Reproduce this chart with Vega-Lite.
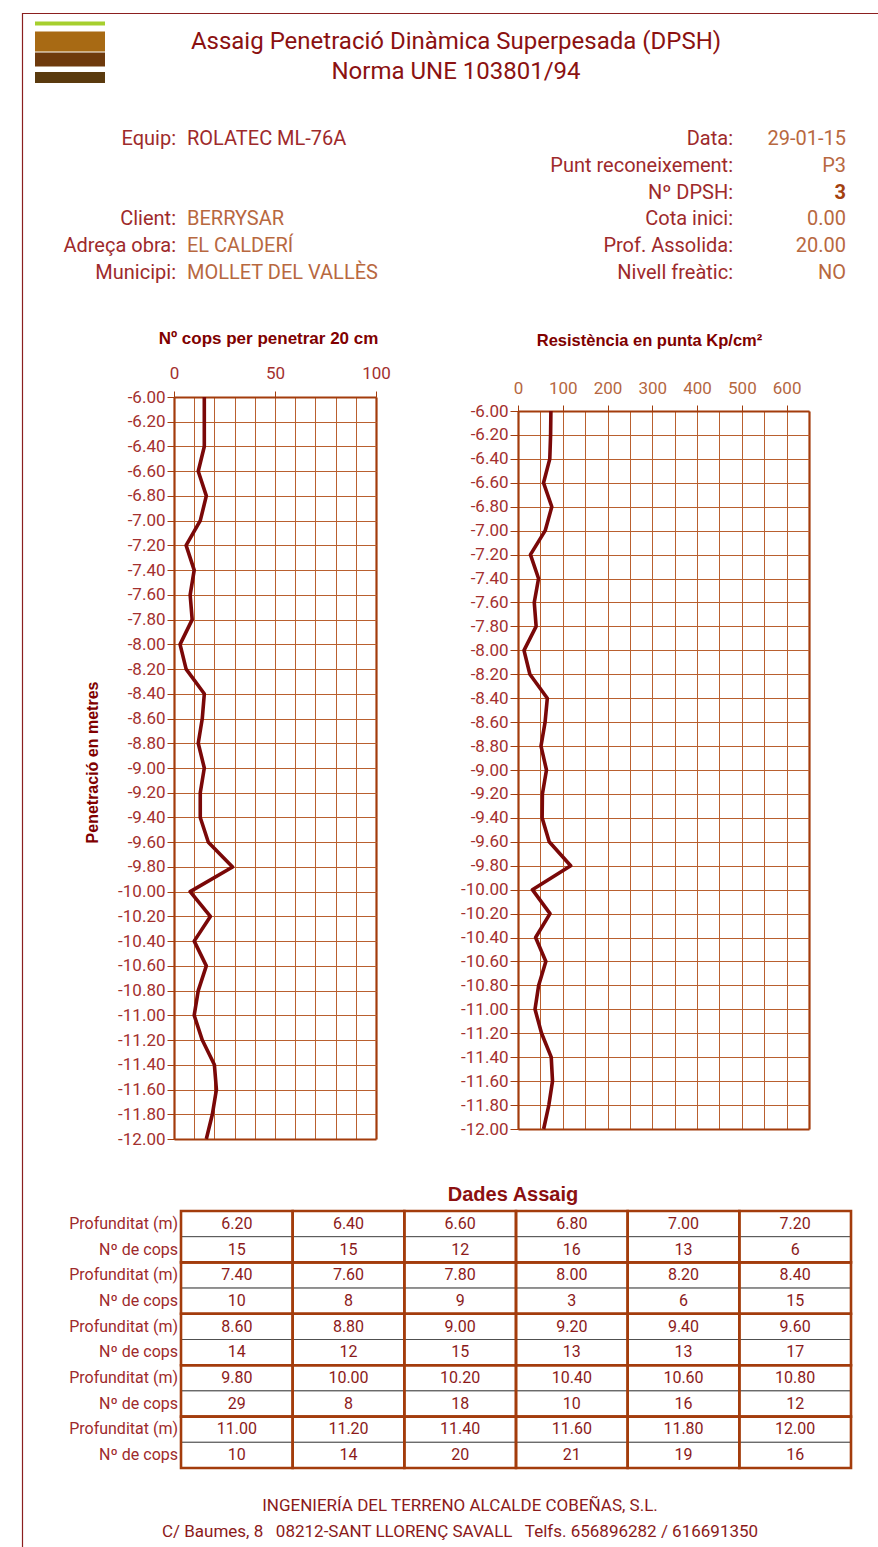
{
  "$schema": "https://vega.github.io/schema/vega-lite/v6.json",
  "width": 878,
  "height": 1547,
  "padding": 0,
  "autosize": {"type": "none"},
  "background": "#ffffff",
  "config": {"view": {"stroke": null}, "font": "Roboto"},
  "datasets": {
    "assaig": [
      {"prof": 6.0, "cops": 15, "rd": 73.5},
      {"prof": 6.2, "cops": 15, "rd": 72.8, "grup": 1, "col": 1},
      {"prof": 6.4, "cops": 15, "rd": 71.0, "grup": 1, "col": 2},
      {"prof": 6.6, "cops": 12, "rd": 57.1, "grup": 1, "col": 3},
      {"prof": 6.8, "cops": 16, "rd": 75.5, "grup": 1, "col": 4},
      {"prof": 7.0, "cops": 13, "rd": 60.7, "grup": 1, "col": 5},
      {"prof": 7.2, "cops": 6, "rd": 27.8, "grup": 1, "col": 6},
      {"prof": 7.4, "cops": 10, "rd": 45.9, "grup": 2, "col": 1},
      {"prof": 7.6, "cops": 8, "rd": 36.3, "grup": 2, "col": 2},
      {"prof": 7.8, "cops": 9, "rd": 40.5, "grup": 2, "col": 3},
      {"prof": 8.0, "cops": 3, "rd": 13.4, "grup": 2, "col": 4},
      {"prof": 8.2, "cops": 6, "rd": 26.5, "grup": 2, "col": 5},
      {"prof": 8.4, "cops": 15, "rd": 65.5, "grup": 2, "col": 6},
      {"prof": 8.6, "cops": 14, "rd": 60.5, "grup": 3, "col": 1},
      {"prof": 8.8, "cops": 12, "rd": 51.4, "grup": 3, "col": 2},
      {"prof": 9.0, "cops": 15, "rd": 63.6, "grup": 3, "col": 3},
      {"prof": 9.2, "cops": 13, "rd": 54.5, "grup": 3, "col": 4},
      {"prof": 9.4, "cops": 13, "rd": 53.9, "grup": 3, "col": 5},
      {"prof": 9.6, "cops": 17, "rd": 69.7, "grup": 3, "col": 6},
      {"prof": 9.8, "cops": 29, "rd": 117.7, "grup": 4, "col": 1},
      {"prof": 10.0, "cops": 8, "rd": 32.1, "grup": 4, "col": 2},
      {"prof": 10.2, "cops": 18, "rd": 71.5, "grup": 4, "col": 3},
      {"prof": 10.4, "cops": 10, "rd": 39.3, "grup": 4, "col": 4},
      {"prof": 10.6, "cops": 16, "rd": 62.2, "grup": 4, "col": 5},
      {"prof": 10.8, "cops": 12, "rd": 46.1, "grup": 4, "col": 6},
      {"prof": 11.0, "cops": 10, "rd": 38.0, "grup": 5, "col": 1},
      {"prof": 11.2, "cops": 14, "rd": 52.6, "grup": 5, "col": 2},
      {"prof": 11.4, "cops": 20, "rd": 74.2, "grup": 5, "col": 3},
      {"prof": 11.6, "cops": 21, "rd": 77.1, "grup": 5, "col": 4},
      {"prof": 11.8, "cops": 19, "rd": 68.9, "grup": 5, "col": 5},
      {"prof": 12.0, "cops": 16, "rd": 57.3, "grup": 5, "col": 6}
    ],
    "fitxa": [
      {"bloc": "esq", "fila": 1, "camp": "Equip:", "valor": "ROLATEC ML-76A"},
      {"bloc": "esq", "fila": 4, "camp": "Client:", "valor": "BERRYSAR"},
      {"bloc": "esq", "fila": 5, "camp": "Adreça obra:", "valor": "EL CALDERÍ"},
      {"bloc": "esq", "fila": 6, "camp": "Municipi:", "valor": "MOLLET DEL VALLÈS"},
      {"bloc": "dre", "fila": 1, "camp": "Data:", "valor": "29-01-15"},
      {"bloc": "dre", "fila": 2, "camp": "Punt reconeixement:", "valor": "P3"},
      {"bloc": "dre", "fila": 3, "camp": "Nº DPSH:", "valor": "3"},
      {"bloc": "dre", "fila": 4, "camp": "Cota inici:", "valor": "0.00"},
      {"bloc": "dre", "fila": 5, "camp": "Prof. Assolida:", "valor": "20.00"},
      {"bloc": "dre", "fila": 6, "camp": "Nivell freàtic:", "valor": "NO"}
    ]
  },
  "resolve": {
    "scale": {"x": "independent", "y": "independent", "color": "independent", "size": "independent"},
    "axis": {"x": "independent", "y": "independent"}
  },
  "layer": [
    {
      "data": {"values": [{"full": "P3"}]},
      "mark": {"type": "rect", "filled": false, "color": "#8b1f1f", "strokeWidth": 1.2},
      "encoding": {
        "x": {"datum": 0, "type": "quantitative", "scale": {"domain": [0, 1], "range": [22.5, 900]}, "axis": null},
        "x2": {"datum": 1},
        "y": {"datum": 0, "type": "quantitative", "scale": {"domain": [0, 1], "range": [13.5, 1580]}, "axis": null},
        "y2": {"datum": 1}
      }
    },
    {
      "data": {"values": [{"estrat": "gespa"}, {"estrat": "sorra"}, {"estrat": "argila"}, {"estrat": "roca"}]},
      "mark": {"type": "bar"},
      "encoding": {
        "y": {"field": "estrat", "type": "nominal", "sort": null,
              "scale": {"type": "point", "domain": ["gespa", "sorra", "argila", "roca"], "range": [23.5, 77.5], "padding": 0}, "axis": null},
        "x": {"datum": 0, "type": "quantitative", "scale": {"domain": [0, 1], "range": [35, 105]}, "axis": null},
        "x2": {"datum": 1},
        "size": {"field": "estrat", "type": "nominal",
                 "scale": {"type": "ordinal", "domain": ["gespa", "sorra", "argila", "roca"], "range": [4, 20, 14, 11]}, "legend": null},
        "color": {"field": "estrat", "type": "nominal",
                  "scale": {"domain": ["gespa", "sorra", "argila", "roca"], "range": ["#a6cf2e", "#a86a14", "#6e3a0c", "#5a3a0e"]}, "legend": null}
      }
    },
    {
      "data": {"values": [
        {"linia": 1, "text": "Assaig Penetració Dinàmica Superpesada (DPSH)"},
        {"linia": 2, "text": "Norma UNE 103801/94"}
      ]},
      "mark": {"type": "text", "font": "Roboto", "fontSize": 24, "color": "#8b1111", "baseline": "middle", "dx": 17},
      "encoding": {
        "y": {"field": "linia", "type": "ordinal", "scale": {"type": "point", "range": [42, 72], "padding": 0}, "axis": null},
        "text": {"field": "text"}
      }
    },
    {
      "data": {"name": "fitxa"},
      "mark": {"type": "text", "font": "Roboto", "fontSize": 20, "align": "right", "baseline": "middle", "color": "#9e2a2b"},
      "encoding": {
        "x": {"field": "bloc", "type": "nominal", "scale": {"type": "point", "domain": ["esq", "dre"], "range": [176, 733], "padding": 0}, "axis": null},
        "y": {"field": "fila", "type": "ordinal", "scale": {"type": "point", "domain": [1, 2, 3, 4, 5, 6], "range": [139, 273], "padding": 0}, "axis": null},
        "text": {"field": "camp"}
      }
    },
    {
      "data": {"name": "fitxa"},
      "transform": [{"filter": "datum.bloc === 'esq'"}],
      "mark": {"type": "text", "font": "Roboto", "fontSize": 20, "align": "left", "baseline": "middle"},
      "encoding": {
        "x": {"field": "bloc", "type": "nominal", "scale": {"type": "point", "domain": ["esq", "dre"], "range": [187, 846], "padding": 0}, "axis": null},
        "y": {"field": "fila", "type": "ordinal", "scale": {"type": "point", "domain": [1, 2, 3, 4, 5, 6], "range": [139, 273], "padding": 0}, "axis": null},
        "color": {"condition": {"test": "datum.camp === 'Equip:'", "value": "#9e2a2b"}, "value": "#b8683f"},
        "text": {"field": "valor"}
      }
    },
    {
      "data": {"name": "fitxa"},
      "transform": [{"filter": "datum.bloc === 'dre' && datum.valor !== '3'"}],
      "mark": {"type": "text", "font": "Roboto", "fontSize": 20, "align": "right", "baseline": "middle", "color": "#b8683f"},
      "encoding": {
        "x": {"field": "bloc", "type": "nominal", "scale": {"type": "point", "domain": ["esq", "dre"], "range": [187, 846], "padding": 0}, "axis": null},
        "y": {"field": "fila", "type": "ordinal", "scale": {"type": "point", "domain": [1, 2, 3, 4, 5, 6], "range": [139, 273], "padding": 0}, "axis": null},
        "text": {"field": "valor"}
      }
    },
    {
      "data": {"name": "fitxa"},
      "transform": [{"filter": "datum.valor === '3'"}],
      "mark": {"type": "text", "font": "Roboto", "fontSize": 20, "fontWeight": "bold", "align": "right", "baseline": "middle", "color": "#a3400f"},
      "encoding": {
        "x": {"field": "bloc", "type": "nominal", "scale": {"type": "point", "domain": ["esq", "dre"], "range": [187, 846], "padding": 0}, "axis": null},
        "y": {"field": "fila", "type": "ordinal", "scale": {"type": "point", "domain": [1, 2, 3, 4, 5, 6], "range": [139, 273], "padding": 0}, "axis": null},
        "text": {"field": "valor"}
      }
    },
    {
      "data": {"name": "assaig"},
      "mark": {"type": "line", "color": "#7a0808", "strokeWidth": 3.6, "strokeJoin": "round"},
      "encoding": {
        "x": {
          "field": "cops", "type": "quantitative",
          "scale": {"domain": [0, 100], "range": [174, 376], "nice": false, "zero": false},
          "axis": {
            "orient": "top", "offset": -397,
            "values": [0, 10, 20, 30, 40, 50, 60, 70, 80, 90, 100],
            "grid": true,
            "gridColor": {"condition": {"test": "datum.value === 100", "value": "#a33c0c"}, "value": "#b9602f"},
            "gridWidth": {"condition": {"test": "datum.value === 100", "value": 2.2}, "value": 1},
            "gridOpacity": 1,
            "domainColor": "#a33c0c", "domainWidth": 2.2,
            "tickColor": "#a33c0c", "tickSize": 6,
            "tickOpacity": {"condition": {"test": "datum.value % 50 === 0", "value": 1}, "value": 0},
            "labelExpr": "datum.value % 50 === 0 ? datum.label : ''",
            "labelFont": "Roboto", "labelFontSize": 17, "labelColor": "#a3302e", "labelPadding": 9,
            "labelFlush": false, "labelOverlap": false,
            "title": "Nº cops per penetrar 20 cm",
            "titleFont": "Liberation Sans", "titleFontSize": 17, "titleFontWeight": "bold", "titleColor": "#800000",
            "titleX": 268, "titleY": -59, "titleBaseline": "middle", "titleAlign": "center"
          }
        },
        "y": {
          "field": "prof", "type": "quantitative",
          "scale": {"domain": [6, 12], "range": [397, 1139], "nice": false, "zero": false},
          "axis": {
            "orient": "left", "offset": -174,
            "values": [6, 6.2, 6.4, 6.6, 6.8, 7, 7.2, 7.4, 7.6, 7.8, 8, 8.2, 8.4, 8.6, 8.8, 9, 9.2, 9.4, 9.6, 9.8, 10, 10.2, 10.4, 10.6, 10.8, 11, 11.2, 11.4, 11.6, 11.8, 12],
            "grid": true,
            "gridColor": {"condition": {"test": "datum.value === 12", "value": "#a33c0c"}, "value": "#b9602f"},
            "gridWidth": {"condition": {"test": "datum.value === 12", "value": 2.2}, "value": 1},
            "gridOpacity": 1,
            "domainColor": "#a33c0c", "domainWidth": 2.2,
            "tickColor": "#a33c0c", "tickSize": 7,
            "labelExpr": "'-' + format(datum.value, '.2f')",
            "labelFont": "Roboto", "labelFontSize": 17, "labelColor": "#a3302e", "labelPadding": 2,
            "labelFlush": false, "labelOverlap": false, "labelBaseline": "middle",
            "title": "Penetració en metres",
            "titleFont": "Liberation Sans", "titleFontSize": 16, "titleFontWeight": "bold", "titleColor": "#800000",
            "titleAngle": -90, "titleX": -82, "titleY": 762, "titleBaseline": "middle", "titleAlign": "center"
          }
        },
        "order": {"field": "prof", "type": "quantitative"}
      }
    },
    {
      "data": {"name": "assaig"},
      "mark": {"type": "line", "color": "#7a0808", "strokeWidth": 3.6, "strokeJoin": "round"},
      "encoding": {
        "x": {
          "field": "rd", "type": "quantitative",
          "scale": {"domain": [0, 650], "range": [518, 809], "nice": false, "zero": false},
          "axis": {
            "orient": "top", "offset": -411,
            "values": [0, 50, 100, 150, 200, 250, 300, 350, 400, 450, 500, 550, 600, 650],
            "grid": true,
            "gridColor": {"condition": {"test": "datum.value === 650", "value": "#a33c0c"}, "value": "#b9602f"},
            "gridWidth": {"condition": {"test": "datum.value === 650", "value": 2.2}, "value": 1},
            "gridOpacity": 1,
            "domainColor": "#a33c0c", "domainWidth": 2.2,
            "tickColor": "#a33c0c", "tickSize": 6,
            "tickOpacity": {"condition": {"test": "datum.value % 100 === 0 && datum.value <= 600", "value": 1}, "value": 0},
            "labelExpr": "datum.value % 100 === 0 && datum.value <= 600 ? datum.label : ''",
            "labelFont": "Roboto", "labelFontSize": 17, "labelColor": "#b5673f", "labelPadding": 8,
            "labelFlush": false, "labelOverlap": false,
            "title": "Resistència en punta Kp/cm²",
            "titleFont": "Liberation Sans", "titleFontSize": 16.5, "titleFontWeight": "bold", "titleColor": "#800000",
            "titleX": 649, "titleY": -71, "titleBaseline": "middle", "titleAlign": "center"
          }
        },
        "y": {
          "field": "prof", "type": "quantitative",
          "scale": {"domain": [6, 12], "range": [411, 1129], "nice": false, "zero": false},
          "axis": {
            "orient": "left", "offset": -518,
            "values": [6, 6.2, 6.4, 6.6, 6.8, 7, 7.2, 7.4, 7.6, 7.8, 8, 8.2, 8.4, 8.6, 8.8, 9, 9.2, 9.4, 9.6, 9.8, 10, 10.2, 10.4, 10.6, 10.8, 11, 11.2, 11.4, 11.6, 11.8, 12],
            "grid": true,
            "gridColor": {"condition": {"test": "datum.value === 12", "value": "#a33c0c"}, "value": "#b9602f"},
            "gridWidth": {"condition": {"test": "datum.value === 12", "value": 2.2}, "value": 1},
            "gridOpacity": 1,
            "domainColor": "#a33c0c", "domainWidth": 2.2,
            "tickColor": "#a33c0c", "tickSize": 8,
            "labelExpr": "'-' + format(datum.value, '.2f')",
            "labelFont": "Roboto", "labelFontSize": 17, "labelColor": "#a3302e", "labelPadding": 2,
            "labelFlush": false, "labelOverlap": false, "labelBaseline": "middle",
            "title": null
          }
        },
        "order": {"field": "prof", "type": "quantitative"}
      }
    },
    {
      "data": {"values": [{"titol": "Dades Assaig"}]},
      "mark": {"type": "text", "font": "Liberation Sans", "fontSize": 20, "fontWeight": "bold", "color": "#8b1010", "baseline": "middle", "dx": 74},
      "encoding": {
        "y": {"field": "titol", "type": "nominal", "scale": {"type": "point", "range": [1195, 1195], "padding": 0}, "axis": null},
        "text": {"field": "titol"}
      }
    },
    {
      "data": {"name": "assaig"},
      "transform": [{"filter": {"field": "grup", "valid": true}}],
      "layer": [
        {
          "transform": [{"fold": ["prof", "cops"], "as": ["camp", "v"]}],
          "mark": {"type": "rect", "fill": "#ffffff", "stroke": "#505050", "strokeWidth": 1},
          "encoding": {
            "x": {"field": "col", "type": "ordinal",
                  "scale": {"type": "band", "range": [181, 851], "paddingInner": 0, "paddingOuter": 0}, "axis": null},
            "y": {"field": "grup", "type": "ordinal",
                  "scale": {"type": "band", "range": [1211, 1468], "paddingInner": 0, "paddingOuter": 0}, "axis": null},
            "yOffset": {"field": "camp", "type": "nominal", "sort": ["prof", "cops"],
                        "scale": {"type": "band", "paddingInner": 0, "paddingOuter": 0}}
          }
        },
        {
          "mark": {"type": "rect", "filled": false, "color": "#a33c0c", "strokeWidth": 2.6},
          "encoding": {
            "x": {"field": "col", "type": "ordinal", "axis": null},
            "y": {"field": "grup", "type": "ordinal", "axis": null}
          }
        },
        {
          "mark": {"type": "text", "font": "Roboto", "fontSize": 16, "color": "#8b1a1a", "baseline": "middle"},
          "encoding": {
            "x": {"field": "col", "type": "ordinal", "axis": null},
            "y": {"field": "grup", "type": "ordinal", "bandPosition": 0.25, "axis": null},
            "text": {"field": "prof", "type": "quantitative", "format": ".2f"}
          }
        },
        {
          "mark": {"type": "text", "font": "Roboto", "fontSize": 16, "color": "#8b1a1a", "baseline": "middle"},
          "encoding": {
            "x": {"field": "col", "type": "ordinal", "axis": null},
            "y": {"field": "grup", "type": "ordinal", "bandPosition": 0.75, "axis": null},
            "text": {"field": "cops", "type": "quantitative"}
          }
        },
        {
          "transform": [{"filter": "datum.col === 1"}],
          "mark": {"type": "text", "font": "Roboto", "fontSize": 16, "color": "#9e2a2b", "align": "right", "baseline": "middle", "dx": -3, "text": "Profunditat (m)"},
          "encoding": {
            "x": {"field": "col", "type": "ordinal", "bandPosition": 0, "axis": null},
            "y": {"field": "grup", "type": "ordinal", "bandPosition": 0.25, "axis": null}
          }
        },
        {
          "transform": [{"filter": "datum.col === 1"}],
          "mark": {"type": "text", "font": "Roboto", "fontSize": 16, "color": "#9e2a2b", "align": "right", "baseline": "middle", "dx": -3, "text": "Nº de cops"},
          "encoding": {
            "x": {"field": "col", "type": "ordinal", "bandPosition": 0, "axis": null},
            "y": {"field": "grup", "type": "ordinal", "bandPosition": 0.75, "axis": null}
          }
        }
      ]
    },
    {
      "data": {"values": [
        {"linia": 1, "text": "INGENIERÍA DEL TERRENO ALCALDE COBEÑAS, S.L."},
        {"linia": 2, "text": "C/ Baumes, 8\u00a0\u00a0 08212-SANT LLORENÇ SAVALL\u00a0\u00a0 Telfs. 656896282 / 616691350"}
      ]},
      "mark": {"type": "text", "font": "Roboto", "fontSize": 17, "letterSpacing": 0.3, "color": "#8b1a1a", "baseline": "middle", "dx": 21},
      "encoding": {
        "y": {"field": "linia", "type": "ordinal", "scale": {"type": "point", "range": [1506, 1532], "padding": 0}, "axis": null},
        "text": {"field": "text"}
      }
    }
  ]
}
